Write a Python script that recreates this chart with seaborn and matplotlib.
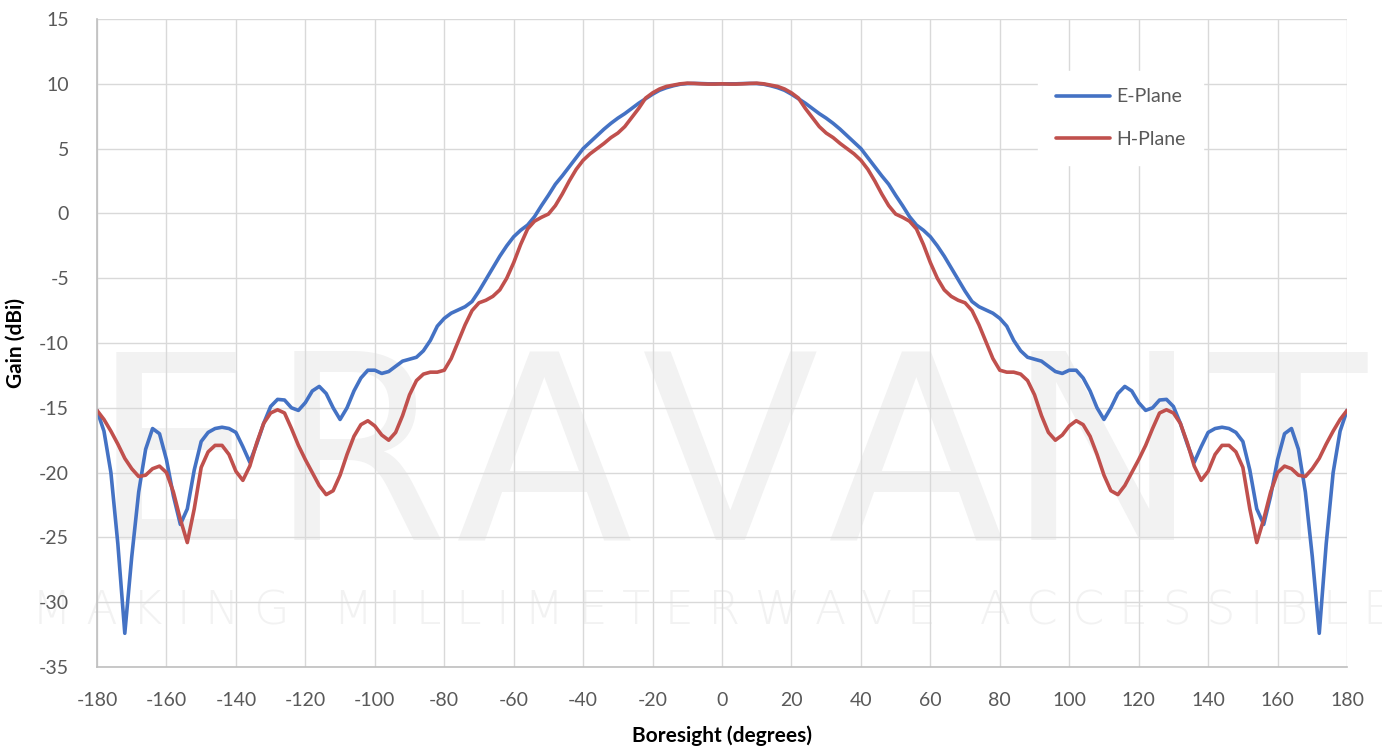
import numpy as np
import pandas as pd
import matplotlib
matplotlib.use('Agg')
import matplotlib.pyplot as plt
from matplotlib.ticker import MultipleLocator
import seaborn as sns

# boresight angle, every 2 degrees
angle = np.arange(-180, 181, 2)

e_plane = [
    -15.2, -16.8, -20.0, -25.5, -32.4, -26.5, -21.5, -18.2, -16.6, -17.0,
    -19.0, -21.8, -24.0, -22.8, -19.8, -17.6, -16.9, -16.6, -16.5, -16.6,
    -16.9, -18.0, -19.2, -17.8, -16.2, -14.9, -14.35, -14.4, -15.0, -15.2,
    -14.6, -13.7, -13.35, -13.9, -15.0, -15.9, -15.0, -13.7, -12.7, -12.1,
    -12.1, -12.35, -12.2, -11.8, -11.4, -11.25, -11.1, -10.6, -9.8, -8.7,
    -8.1, -7.7, -7.45, -7.2, -6.8, -6.0, -5.1, -4.2, -3.3, -2.5,
    -1.8, -1.3, -0.9, -0.25, 0.6, 1.4, 2.25, 2.9, 3.6, 4.3,
    5.0, 5.5, 6.0, 6.5, 6.95, 7.35, 7.7, 8.1, 8.5, 8.85,
    9.2, 9.5, 9.7, 9.85, 9.97, 10.02, 10.03, 10.02, 10.0, 10.0,
    10.0,
    10.0, 10.0, 10.02, 10.03, 10.02, 9.97, 9.85, 9.7, 9.5, 9.2,
    8.85, 8.5, 8.1, 7.7, 7.35, 6.95, 6.5, 6.0, 5.5, 5.0,
    4.3, 3.6, 2.9, 2.25, 1.4, 0.6, -0.25, -0.9, -1.3, -1.8,
    -2.5, -3.3, -4.2, -5.1, -6.0, -6.8, -7.2, -7.45, -7.7, -8.1,
    -8.7, -9.8, -10.6, -11.1, -11.25, -11.4, -11.8, -12.2, -12.35, -12.1,
    -12.1, -12.7, -13.7, -15.0, -15.9, -15.0, -13.9, -13.35, -13.7, -14.6,
    -15.2, -15.0, -14.4, -14.35, -14.9, -16.2, -17.8, -19.2, -18.0, -16.9,
    -16.6, -16.5, -16.6, -16.9, -17.6, -19.8, -22.8, -24.0, -21.8, -19.0,
    -17.0, -16.6, -18.2, -21.5, -26.5, -32.4, -25.5, -20.0, -16.8, -15.2,
]

h_plane = [
    -15.2, -15.9, -16.8, -17.8, -18.9, -19.7, -20.3, -20.2, -19.7, -19.5,
    -20.0, -21.5, -23.6, -25.4, -22.8, -19.6, -18.4, -17.9, -17.9, -18.6,
    -19.9, -20.6, -19.5, -17.7, -16.2, -15.4, -15.15, -15.4, -16.6, -17.9,
    -19.0, -20.0, -21.0, -21.7, -21.4, -20.2, -18.6, -17.2, -16.3, -16.0,
    -16.4, -17.1, -17.5, -16.9, -15.6, -14.0, -12.9, -12.4, -12.25, -12.25,
    -12.1, -11.2, -9.9, -8.6, -7.5, -6.9, -6.7, -6.4, -5.9, -5.0,
    -3.8, -2.4, -1.2, -0.6, -0.3, -0.05, 0.6, 1.5, 2.5, 3.4,
    4.1, 4.6, 5.0, 5.4, 5.85, 6.2, 6.7, 7.4, 8.1, 8.9,
    9.3, 9.6, 9.8, 9.9, 10.0, 10.05, 10.03, 10.0, 9.98, 9.98,
    10.0,
    9.98, 9.98, 10.0, 10.03, 10.05, 10.0, 9.9, 9.8, 9.6, 9.3,
    8.9, 8.1, 7.4, 6.7, 6.2, 5.85, 5.4, 5.0, 4.6, 4.1,
    3.4, 2.5, 1.5, 0.6, -0.05, -0.3, -0.6, -1.2, -2.4, -3.8,
    -5.0, -5.9, -6.4, -6.7, -6.9, -7.5, -8.6, -9.9, -11.2, -12.1,
    -12.25, -12.25, -12.4, -12.9, -14.0, -15.6, -16.9, -17.5, -17.1, -16.4,
    -16.0, -16.3, -17.2, -18.6, -20.2, -21.4, -21.7, -21.0, -20.0, -19.0,
    -17.9, -16.6, -15.4, -15.15, -15.4, -16.2, -17.7, -19.5, -20.6, -19.9,
    -18.6, -17.9, -17.9, -18.4, -19.6, -22.8, -25.4, -23.6, -21.5, -20.0,
    -19.5, -19.7, -20.2, -20.3, -19.7, -18.9, -17.8, -16.8, -15.9, -15.2,
]

planes = ['E-Plane', 'H-Plane']
colors = ['#4472C4', '#C0504D']

df = pd.concat([
    pd.DataFrame({'angle': angle, 'gain': e_plane, 'plane': planes[0]}),
    pd.DataFrame({'angle': angle, 'gain': h_plane, 'plane': planes[1]}),
])

sns.set_style('white')
plt.rcParams['font.family'] = ['Lato', 'DejaVu Sans']
plt.rcParams['axes.unicode_minus'] = False

fig = plt.figure(figsize=(13.82, 7.49), dpi=100)
ax = fig.add_axes([0.0702, 0.1095, 0.9045, 0.8651])
ax.set_axisbelow(True)

# faint watermark behind the grid
wm = dict(transform=fig.transFigure, color='#f2f2f2', zorder=0.1,
          clip_on=False, family='DejaVu Sans')
for i, letter in enumerate('ERAVANT'):
    ax.text((172 + 186 * i) / 1382, 0.279, letter, ha='center',
            va='baseline', fontsize=186, **wm)
ax.text(0.515, 0.166, 'M A K I N G   M I L L I M E T E R W A V E   A C C E S S I B L E',
        ha='center', va='baseline', fontsize=33, fontweight='light', **wm)

sns.lineplot(data=df, x='angle', y='gain', hue='plane', palette=colors,
             linewidth=2.6, ax=ax, sort=False)

ax.set_xlim(-180, 180)
ax.set_ylim(-35, 15)
ax.xaxis.set_major_locator(MultipleLocator(20))
ax.xaxis.set_minor_locator(MultipleLocator(4))
ax.yaxis.set_major_locator(MultipleLocator(5))
ax.yaxis.set_minor_locator(MultipleLocator(1))
ax.grid(True, which='major', color='#d9d9d9', linewidth=1.0)

for s in ['top', 'right']:
    ax.spines[s].set_visible(False)
for s in ['left', 'bottom']:
    ax.spines[s].set_color('#bfbfbf')
    ax.spines[s].set_linewidth(1.2)

ax.tick_params(which='both', direction='in', color='#bfbfbf', width=1.0,
               labelsize=14, labelcolor='#595959')
ax.tick_params(which='minor', length=5)
ax.tick_params(axis='x', which='major', length=0, pad=18)
ax.tick_params(axis='y', which='major', length=0, pad=20)

ax.set_xlabel('Boresight (degrees)', fontsize=15, fontweight='bold',
              color='black', labelpad=12)
ax.set_ylabel('Gain (dBi)', fontsize=15, fontweight='bold', color='black',
              labelpad=10)

ax.legend(loc='upper left', bbox_to_anchor=(0.745, 0.935), frameon=True,
          facecolor='white', edgecolor='white', framealpha=1, fancybox=False,
          fontsize=14, labelcolor='#595959', handlelength=2.8,
          handletextpad=0.3, labelspacing=1.3, borderpad=0.9)

fig.savefig('out.png', dpi=100)
